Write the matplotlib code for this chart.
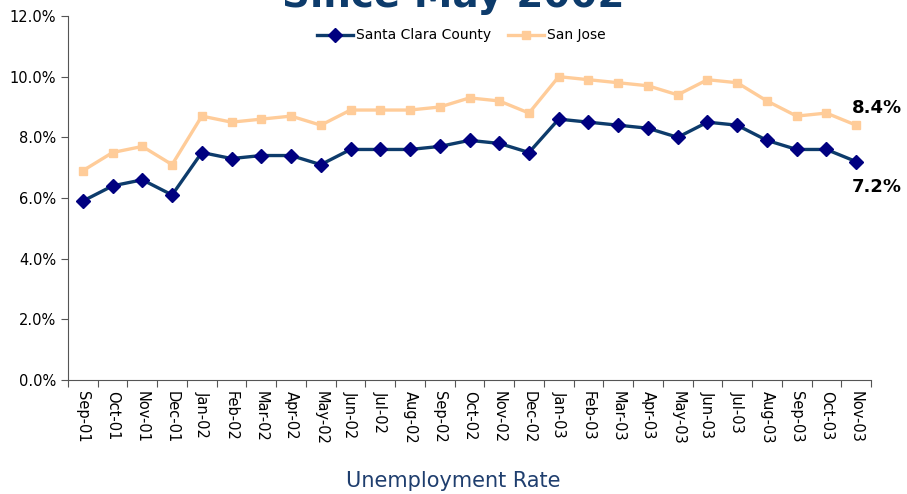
import matplotlib.pyplot as plt
import numpy as np

months = ["Sep-01", "Oct-01", "Nov-01", "Dec-01", "Jan-02", "Feb-02", "Mar-02",
          "Apr-02", "May-02", "Jun-02", "Jul-02", "Aug-02", "Sep-02", "Oct-02",
          "Nov-02", "Dec-02", "Jan-03", "Feb-03", "Mar-03", "Apr-03", "May-03",
          "Jun-03", "Jul-03", "Aug-03", "Sep-03", "Oct-03", "Nov-03"]
santa_clara = [5.9, 6.4, 6.6, 6.1, 7.5, 7.3, 7.4, 7.4, 7.1, 7.6, 7.6, 7.6, 7.7,
               7.9, 7.8, 7.5, 8.6, 8.5, 8.4, 8.3, 8.0, 8.5, 8.4, 7.9, 7.6, 7.6, 7.2]
san_jose = [6.9, 7.5, 7.7, 7.1, 8.7, 8.5, 8.6, 8.7, 8.4, 8.9, 8.9, 8.9, 9.0,
            9.3, 9.2, 8.8, 10.0, 9.9, 9.8, 9.7, 9.4, 9.9, 9.8, 9.2, 8.7, 8.8, 8.4]

fig = plt.figure(figsize=(9.07, 4.94), dpi=100)
ax = fig.add_axes([68 / 907, 1 - 380 / 494, (871 - 68) / 907, (380 - 16) / 494])

x = np.arange(len(months))
ax.plot(x, santa_clara, color="#0d3b6b", lw=2.4, marker="D", ms=7,
        mfc="#000080", mec="#000080", label="Santa Clara County", zorder=3)
ax.plot(x, san_jose, color="#ffcc99", lw=2.4, marker="s", ms=6,
        mfc="#ffcc99", mec="#ffcc99", label="San Jose", zorder=2)

ax.set_xlim(-0.5, len(months) - 0.5)
ax.set_ylim(0, 12)
ax.set_yticks(np.arange(0, 12.1, 2))
ax.set_yticklabels([f"{v:.1f}%" for v in np.arange(0, 12.1, 2)], fontsize=10.5)

ax.set_xticks(np.arange(-0.5, len(months), 1))
ax.set_xticklabels([])
ax.set_xticks(x, minor=True)
ax.set_xticklabels(months, minor=True, rotation=270, fontsize=10.5)
ax.tick_params(axis="x", which="minor", length=0, pad=8)
ax.tick_params(axis="both", which="major", length=5, color="#555555")

for s in ["top", "right"]:
    ax.spines[s].set_visible(False)
for s in ["left", "bottom"]:
    ax.spines[s].set_color("#555555")

ax.text(x[-1] - 0.15, 8.97, f"{san_jose[-1]:.1f}%", fontsize=13,
        fontweight="bold", ha="left", va="center")
ax.text(x[-1] - 0.15, 6.36, f"{santa_clara[-1]:.1f}%", fontsize=13,
        fontweight="bold", ha="left", va="center")

ax.legend(loc="upper center", bbox_to_anchor=(0.49, 0.985), ncol=2, frameon=False,
          fontsize=10, handlelength=2.6, handletextpad=0.2, columnspacing=1.2,
          borderaxespad=0.1)

fig.text(0.5, 1 - 7 / 494, "Since May 2002", fontsize=28, fontweight="bold",
         color="#0d3b6b", ha="center", va="baseline")
fig.text(0.5, 1 - 481 / 494, "Unemployment Rate", fontsize=15, color="#1f3e6e",
         ha="center", va="center")

fig.savefig("out.png", dpi=100)
